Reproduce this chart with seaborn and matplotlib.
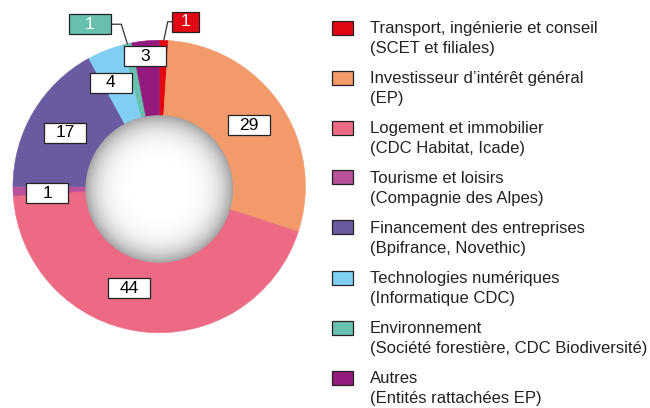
import numpy as np
import seaborn as sns
import matplotlib.pyplot as plt
from matplotlib.patches import Rectangle, Circle
from matplotlib.transforms import ScaledTranslation

sns.set_theme(style="white")
plt.rcParams['font.family'] = ['Liberation Sans', 'DejaVu Sans']

# données
secteurs = ["Transport, ingénierie et conseil\n(SCET et filiales)",
            "Investisseur d\u2019intérêt général\n(EP)",
            "Logement et immobilier\n(CDC Habitat, Icade)",
            "Tourisme et loisirs\n(Compagnie des Alpes)",
            "Financement des entreprises\n(Bpifrance, Novethic)",
            "Technologies numériques\n(Informatique CDC)",
            "Environnement\n(Société forestière, CDC Biodiversité)",
            "Autres\n(Entités rattachées EP)"]
valeurs = [1, 29, 44, 1, 17, 4, 1, 3]
couleurs = sns.color_palette(["#E30613", "#F39A6B", "#EC6A84", "#B8509A",
                              "#6A5AA0", "#80CFF3", "#66C0AD", "#951A7E"])

# réglages des étiquettes (rayon, décalage angulaire) -- None = étiquette à l'extérieur
lab_r = [None, 0.743, 0.726, 0.766, 0.741, 0.783, None, 0.896]
lab_dang = [0, 0, -9.4, 1.6, 1.0, 3.4, 0, 0.7]

fig = plt.figure(figsize=(6.5, 4.08), dpi=100)
ax = fig.add_axes([13 / 650, 1 - 332.7 / 408, 292.4 / 650, 292.4 / 408])

wedges, _ = ax.pie(valeurs, colors=couleurs, startangle=90, counterclock=False,
                   radius=1, wedgeprops=dict(linewidth=0.4))
for w in wedges:
    w.set_edgecolor(w.get_facecolor())
ax.axis("off")

# trou central avec dégradé radial
yy, xx = np.mgrid[-1:1:300j, -1:1:300j]
rr = np.sqrt(xx ** 2 + yy ** 2)
grad = 1 - 0.36 * np.clip(rr, 0, 1) ** 5
hole_c = (0, -0.017)
hole_r = 0.505
img = ax.imshow(grad, cmap="gray", vmin=0, vmax=1, interpolation="bilinear",
                extent=[hole_c[0] - hole_r, hole_c[0] + hole_r,
                        hole_c[1] - hole_r, hole_c[1] + hole_r], zorder=3)
img.set_clip_path(Circle(hole_c, hole_r, transform=ax.transData))
ax.set_xlim(-1, 1)
ax.set_ylim(-1, 1)


def boite(x, y, txt, w=0.42, fc="white", tc="black"):
    tr = fig.dpi_scale_trans + ScaledTranslation(x, y, ax.transData)
    ax.add_patch(Rectangle((-w / 2, -0.10), w, 0.20, transform=tr, fc=fc,
                           ec="#222222", lw=0.9, zorder=5, clip_on=False))
    ax.text(x, y, txt, ha="center", va="center", fontsize=12.5, color=tc,
            zorder=6, clip_on=False)


for i, w in enumerate(wedges):
    mid = np.deg2rad((w.theta1 + w.theta2) / 2 + lab_dang[i])
    if lab_r[i] is not None:
        boite(lab_r[i] * np.cos(mid), lab_r[i] * np.sin(mid), str(valeurs[i]))

# étiquettes extérieures avec traits de rappel
ext = {0: ((0.181, 1.127), 0.27, 78), 6: ((-0.475, 1.11), 0.42, 107)}
for i, ((tx, ty), bw, angB) in ext.items():
    w = wedges[i]
    mid = np.deg2rad((w.theta1 + w.theta2) / 2)
    px, py = np.cos(mid), np.sin(mid)
    ax.annotate("", xy=(px, py), xytext=(tx, ty), annotation_clip=False,
                arrowprops=dict(arrowstyle="-", color="#333333", lw=0.9,
                                shrinkA=bw * 72 / 2, shrinkB=0,
                                connectionstyle=f"angle,angleA=0,angleB={angB},rad=0"),
                zorder=4)
    boite(tx, ty, str(valeurs[i]), w=bw, fc=couleurs[i], tc="white")

# légende dessinée à la main
for i, lab in enumerate(secteurs):
    top = 20.5 + 50 * i
    fig.patches.append(Rectangle((332 / 650, 1 - (top + 14) / 408), 21 / 650, 14 / 408,
                                 transform=fig.transFigure, fc=couleurs[i],
                                 ec="#222222", lw=0.9))
    for k, ligne in enumerate(lab.split("\n")):
        fig.text(370 / 650, 1 - (top + 12.8 + 20 * k) / 408, ligne, fontsize=12,
                 va="baseline", ha="left", color="#222222")

fig.savefig("out.png", dpi=100)
